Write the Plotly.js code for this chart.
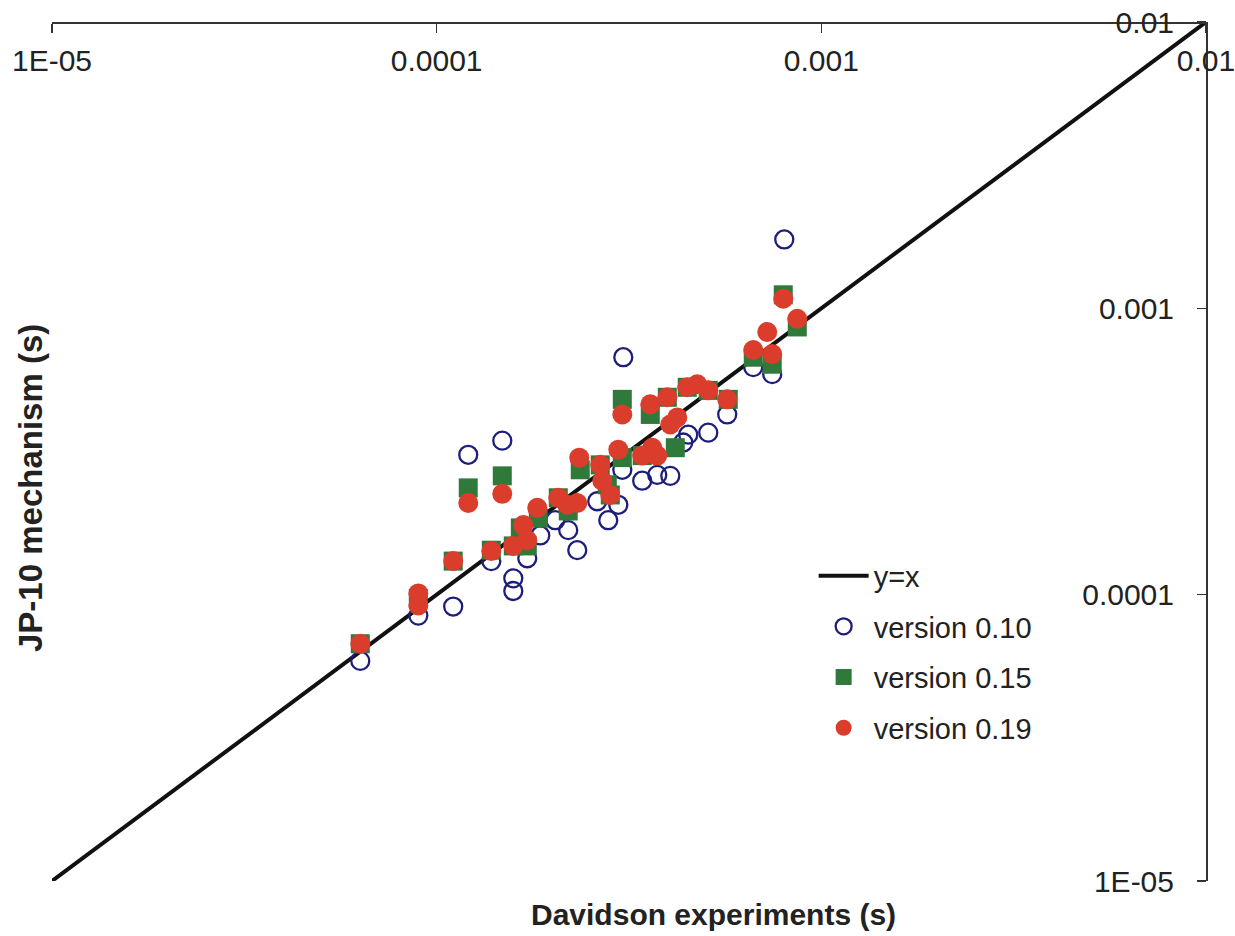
<!DOCTYPE html>
<html>
<head>
<meta charset="utf-8">
<script src="https://cdn.plot.ly/plotly-3.0.1.min.js"></script>
<style>html,body{margin:0;padding:0;background:#fff;}#chart{width:1235px;height:936px;}</style>
</head>
<body>
<div id="chart"></div>
<script>
// Reference line y = x
const lineX = [1e-5, 1e-2];
const lineY = [1e-5, 1e-2];

// version 0.10 (open circles)
const v010X = [6.33e-5, 8.96e-5, 1.104e-4, 1.208e-4, 1.481e-4, 1.387e-4, 1.582e-4, 1.582e-4, 1.720e-4, 1.859e-4,
               2.034e-4, 2.198e-4, 2.320e-4, 2.615e-4, 2.793e-4, 2.966e-4, 3.038e-4, 3.056e-4, 3.422e-4, 3.745e-4,
               4.049e-4, 4.508e-4, 5.082e-4, 5.693e-4, 6.653e-4, 7.453e-4, 8.010e-4, 4.375e-4];
const v010Y = [5.87e-5, 8.45e-5, 9.09e-5, 3.08e-4, 3.45e-4, 1.31e-4, 1.14e-4, 1.03e-4, 1.34e-4, 1.61e-4,
               1.82e-4, 1.68e-4, 1.43e-4, 2.12e-4, 1.82e-4, 2.06e-4, 2.73e-4, 6.75e-4, 2.50e-4, 2.62e-4,
               2.60e-4, 3.62e-4, 3.68e-4, 4.26e-4, 6.23e-4, 5.89e-4, 1.740e-3, 3.40e-4];

// version 0.15 (filled squares)
const v015X = [6.33e-5, 8.96e-5, 1.104e-4, 1.208e-4, 1.481e-4, 1.387e-4, 1.720e-4, 1.650e-4, 1.837e-4, 2.198e-4,
               2.362e-4, 2.777e-4, 3.038e-4, 3.038e-4, 3.592e-4, 4.172e-4, 5.728e-4, 6.653e-4, 7.453e-4, 7.962e-4,
               8.659e-4, 2.071e-4, 3.422e-4, 4.481e-4, 5.082e-4, 3.977e-4, 2.662e-4, 2.827e-4, 1.582e-4];
const v015Y = [6.74e-5, 9.70e-5, 1.31e-4, 2.36e-4, 2.60e-4, 1.43e-4, 1.48e-4, 1.71e-4, 1.85e-4, 1.96e-4,
               2.73e-4, 2.42e-4, 4.81e-4, 3.01e-4, 4.26e-4, 3.26e-4, 4.81e-4, 6.75e-4, 6.38e-4, 1.115e-3,
               8.61e-4, 2.18e-4, 3.06e-4, 5.30e-4, 5.17e-4, 4.89e-4, 2.84e-4, 2.23e-4, 1.48e-4];

// version 0.19 (filled circles)
const v019X = [6.33e-5, 8.96e-5, 8.96e-5, 1.104e-4, 1.208e-4, 1.481e-4, 1.387e-4, 1.582e-4, 1.680e-4, 1.720e-4,
               1.826e-4, 2.071e-4, 2.185e-4, 2.320e-4, 2.348e-4, 2.662e-4, 2.695e-4, 2.827e-4, 2.966e-4, 3.038e-4,
               3.422e-4, 3.635e-4, 3.745e-4, 3.592e-4, 3.977e-4, 4.049e-4, 4.222e-4, 4.481e-4, 4.757e-4, 5.082e-4,
               5.693e-4, 6.653e-4, 7.233e-4, 7.453e-4, 7.962e-4, 8.659e-4];
const v019Y = [6.74e-5, 1.01e-4, 9.17e-5, 1.31e-4, 2.09e-4, 2.25e-4, 1.42e-4, 1.48e-4, 1.75e-4, 1.55e-4,
               2.01e-4, 2.18e-4, 2.06e-4, 2.09e-4, 3.01e-4, 2.84e-4, 2.50e-4, 2.23e-4, 3.21e-4, 4.26e-4,
               3.06e-4, 3.26e-4, 3.06e-4, 4.62e-4, 4.89e-4, 3.93e-4, 4.16e-4, 5.30e-4, 5.43e-4, 5.17e-4,
               4.81e-4, 7.15e-4, 8.27e-4, 6.92e-4, 1.080e-3, 9.19e-4];

const tickVals = [1e-5, 1e-4, 1e-3, 1e-2];
const tickText = ['1E-05', '0.0001', '0.001', '0.01'];

const FONT = 'Arial, "Liberation Sans", sans-serif';

const traces = [
  {x: lineX, y: lineY, mode: 'lines', name: 'y=x', legendgroup: 'a',
   line: {color: '#111111', width: 4}},
  {x: v010X, y: v010Y, mode: 'markers', name: 'version 0.10', legendgroup: 'b',
   marker: {symbol: 'circle-open', size: 18, color: '#1d1d7c', line: {width: 2.3, color: '#1d1d7c'}}},
  {x: v015X, y: v015Y, mode: 'markers', name: 'version 0.15', legendgroup: 'c',
   marker: {symbol: 'square', size: 19, color: '#2f7a3a'}},
  {x: v019X, y: v019Y, mode: 'markers', name: 'version 0.19', legendgroup: 'd',
   marker: {symbol: 'circle', size: 20, color: '#db3d2c'}}
];

const layout = {
  width: 1235, height: 936,
  margin: {l: 52, r: 29, t: 22, b: 55},
  paper_bgcolor: '#ffffff', plot_bgcolor: '#ffffff',
  font: {family: FONT, color: '#222222', size: 26},
  showlegend: true,
  legend: {x: 0.660, y: 0.385, xanchor: 'left', yanchor: 'top',
           bgcolor: 'rgba(0,0,0,0)', font: {size: 29, family: FONT, color: '#222'},
           traceorder: 'grouped', tracegroupgap: 10, itemwidth: 50},
  xaxis: {type: 'log', range: [-5, -2], side: 'bottom', anchor: 'free', position: 1,
          showgrid: false, zeroline: false,
          showline: true, linecolor: '#333', linewidth: 1.5,
          ticks: 'outside', ticklen: 9, tickwidth: 1.5, tickcolor: '#333',
          ticklabelstandoff: 2, ticklabeloverflow: 'allow',
          tickvals: tickVals, ticktext: tickText,
          tickfont: {size: 30, family: FONT, color: '#222'}},
  yaxis: {type: 'log', range: [-5, -2], side: 'left', anchor: 'free', position: 1,
          showgrid: false, zeroline: false,
          showline: true, linecolor: '#333', linewidth: 1.5,
          ticks: 'outside', ticklen: 9, tickwidth: 1.5, tickcolor: '#333',
          ticklabelstandoff: 17, ticklabeloverflow: 'allow',
          tickvals: tickVals, ticktext: tickText,
          tickfont: {size: 30, family: FONT, color: '#222'}},
  annotations: [
    {text: '<b>Davidson experiments (s)</b>', xref: 'paper', yref: 'paper',
     x: (713 - 52) / 1154, y: -(915 - 881) / 859, xanchor: 'center', yanchor: 'middle',
     showarrow: false, font: {size: 30, family: FONT, color: '#222'}},
    {text: '<b>JP-10 mechanism (s)</b>', xref: 'paper', yref: 'paper',
     x: (30 - 52) / 1154, y: (881 - 488) / 859, xanchor: 'center', yanchor: 'middle',
     textangle: -90, showarrow: false, font: {size: 33, family: FONT, color: '#222'}}
  ]
};

Plotly.newPlot('chart', traces, layout, {displayModeBar: false, staticPlot: true});
</script>
</body>
</html>
